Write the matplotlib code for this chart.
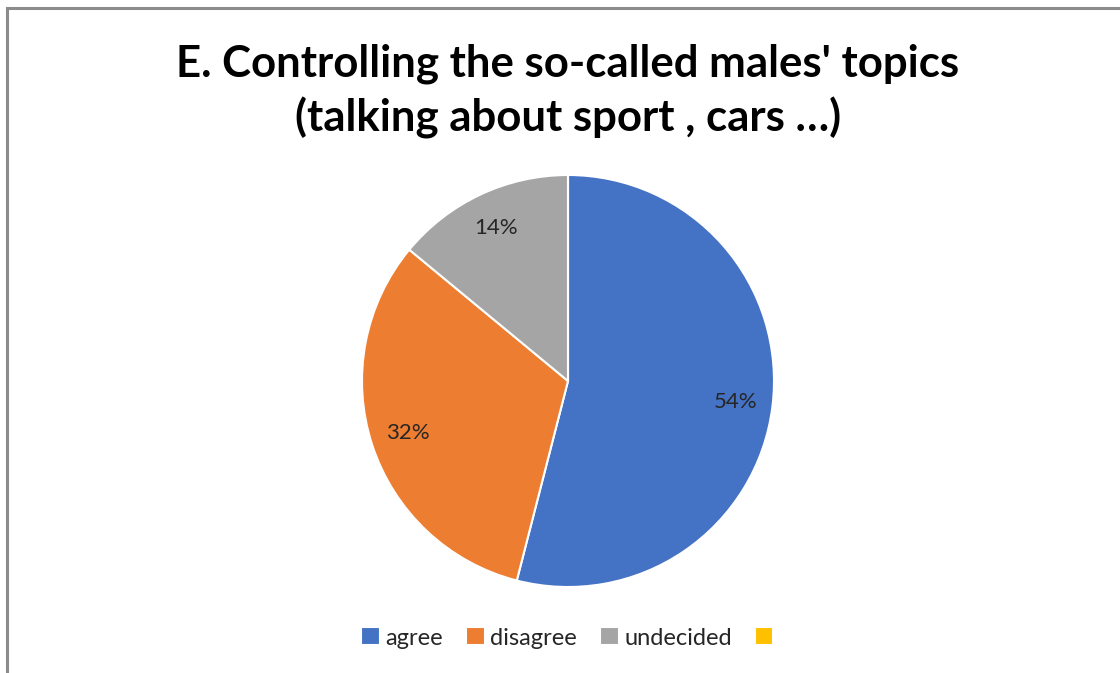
import matplotlib.pyplot as plt
from matplotlib.patches import Rectangle

title = "E. Controlling the so-called males' topics\n(talking about sport , cars \u2026)"
labels = ["agree", "disagree", "undecided", ""]
values = [54, 32, 14, 0]
colors = ["#4472C4", "#ED7D31", "#A5A5A5", "#FFC000"]

plt.rcParams["font.family"] = ["Lato", "DejaVu Sans"]

fig = plt.figure(figsize=(11.2, 6.73), dpi=100)
# chart-area frame, left and top edges only visible
fig.patches.append(Rectangle((7 / 1120, -0.1), 1.2, (673 - 8) / 673 + 0.1,
                             transform=fig.transFigure, fill=False,
                             edgecolor="#8c8c8c", linewidth=2.2))

ax = fig.add_axes([(568 - 206) / 1120, (673 - 587) / 673, 412 / 1120, 412 / 673])


def pct(p):
    return "" if p < 0.5 else "%d%%" % round(p)


wedges, texts, autotexts = ax.pie(values, colors=colors, startangle=90, counterclock=False,
                                  autopct=pct, pctdistance=0.82,
                                  wedgeprops=dict(edgecolor="white", linewidth=1.5),
                                  textprops=dict(fontsize=16, color="#262626"))
ax.set_xlim(-1, 1)
ax.set_ylim(-1, 1)
ax.set_aspect("equal")

fig.text(0.507, 1 - 91 / 673, title, ha="center", va="center", fontsize=31.5,
         fontweight="bold", color="black", linespacing=1.38)

fig.legend(wedges, labels, loc="center", bbox_to_anchor=(0.509, 1 - 638 / 673),
           ncol=4, frameon=False, fontsize=17, handlelength=0.8, handleheight=0.8,
           handletextpad=0.25, columnspacing=0.95, labelcolor="#262626")

fig.savefig("out.png", dpi=100)
